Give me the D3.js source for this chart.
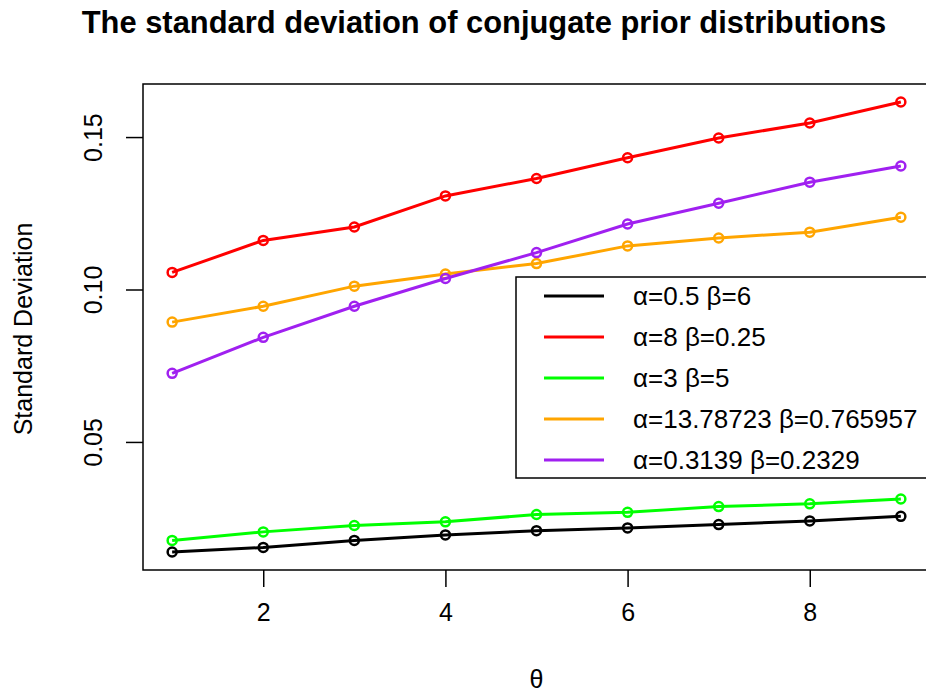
<!DOCTYPE html>
<html>
<head>
<meta charset="utf-8">
<script src="https://cdn.jsdelivr.net/npm/d3@7"></script>
<style>
  body { margin: 0; background: #fff; }
  svg { display: block; font-family: "Liberation Sans", Arial, sans-serif; }
</style>
</head>
<body>
<div class="chart"></div>
<script>
// theta values on the x axis
var theta = [1, 2, 3, 4, 5, 6, 7, 8, 9];

// standard deviation of each prior
var sdA05B6   = [0.0139, 0.0154, 0.0177, 0.0195, 0.0209, 0.0218, 0.0229, 0.0241, 0.0256];
var sdA8B025  = [0.1056, 0.1161, 0.1205, 0.1307, 0.1364, 0.1432, 0.1497, 0.1546, 0.1615];
var sdA3B5    = [0.0177, 0.0205, 0.0226, 0.0238, 0.0262, 0.0269, 0.0288, 0.0297, 0.0313];
var sdA13B076 = [0.0893, 0.0945, 0.1011, 0.1051, 0.1085, 0.1143, 0.1169, 0.1188, 0.1237];
var sdA03B02  = [0.0725, 0.0843, 0.0945, 0.1036, 0.1121, 0.1215, 0.1283, 0.1352, 0.1405];

var seriesNames = ["α=0.5 β=6", "α=8 β=0.25", "α=3 β=5", "α=13.78723 β=0.765957", "α=0.3139 β=0.2329"];
var seriesColors = ["#000000", "#ff0000", "#00ff00", "#ffa500", "#a020f0"];
var xTicks = [2, 4, 6, 8];
var yTicks = [0.05, 0.10, 0.15];

var allSeries = [sdA05B6, sdA8B025, sdA3B5, sdA13B076, sdA03B02];

var W = 926, H = 692;
var box = { left: 143, top: 84, right: 930, bottom: 570 };

var svg = d3.select(".chart").append("svg")
  .attr("width", W)
  .attr("height", H);

// R style: pad the data range by 4% on each side
var yMin = d3.min(allSeries, function(s) { return d3.min(s); });
var yMax = d3.max(allSeries, function(s) { return d3.max(s); });
var yPad = (yMax - yMin) * 0.04;
var xPad = (d3.max(theta) - d3.min(theta)) * 0.04;

var x = d3.scaleLinear()
  .domain([d3.min(theta) - xPad, d3.max(theta) + xPad])
  .range([box.left, box.right]);
var y = d3.scaleLinear()
  .domain([yMin - yPad, yMax + yPad])
  .range([box.bottom, box.top]);

// title
var title = svg.append("text")
  .attr("x", 484)
  .attr("y", 33)
  .attr("text-anchor", "middle")
  .style("font-weight", "bold")
  .style("font-size", "27px")
  .text("The standard deviation of conjugate prior distributions");
var tw = title.node().getComputedTextLength();
title.style("font-size", (27 * 805 / tw) + "px");

// axes
var xAxis = svg.append("g")
  .attr("transform", "translate(0," + box.bottom + ")")
  .call(d3.axisBottom(x).tickValues(xTicks).tickSize(17).tickPadding(16).tickFormat(d3.format("d")));
xAxis.select(".domain").remove();
xAxis.selectAll("line").attr("stroke", "#000").attr("stroke-width", 1.5);
xAxis.selectAll("text").style("font-size", "25px").attr("fill", "#000");

var yAxis = svg.append("g")
  .attr("transform", "translate(" + box.left + ",0)")
  .call(d3.axisLeft(y).tickValues(yTicks).tickSize(17).tickFormat(d3.format(".2f")));
yAxis.select(".domain").remove();
yAxis.selectAll("line").attr("stroke", "#000").attr("stroke-width", 1.5);
yAxis.selectAll("text")
  .attr("x", null).attr("dy", null)
  .attr("text-anchor", "middle")
  .attr("transform", "translate(-41,0) rotate(-90)")
  .attr("y", 0)
  .style("font-size", "25px")
  .attr("fill", "#000");

// plot frame
svg.append("rect")
  .attr("x", box.left)
  .attr("y", box.top)
  .attr("width", box.right - box.left)
  .attr("height", box.bottom - box.top)
  .attr("fill", "none")
  .attr("stroke", "#000")
  .attr("stroke-width", 1.5);

// axis titles
svg.append("text")
  .attr("x", (box.left + box.right) / 2)
  .attr("y", 688)
  .attr("text-anchor", "middle")
  .style("font-size", "25px")
  .text("θ");
svg.append("text")
  .attr("transform", "translate(32," + ((box.top + box.bottom) / 2 + 2) + ") rotate(-90)")
  .attr("text-anchor", "middle")
  .style("font-size", "25px")
  .text("Standard Deviation");

// series (type = "o": lines run through open circles)
var line = d3.line()
  .x(function(d, i) { return x(theta[i]); })
  .y(function(d) { return y(d); });

var groups = svg.selectAll("g.series").data(allSeries).enter().append("g").attr("class", "series");
groups.append("path")
  .attr("d", function(d) { return line(d); })
  .attr("fill", "none")
  .attr("stroke", function(d, i) { return seriesColors[i]; })
  .attr("stroke-width", 3);
groups.each(function(s, si) {
  d3.select(this).selectAll("circle").data(s).enter().append("circle")
    .attr("cx", function(d, i) { return x(theta[i]); })
    .attr("cy", function(d) { return y(d); })
    .attr("r", 4.5)
    .attr("fill", "none")
    .attr("stroke", seriesColors[si])
    .attr("stroke-width", 2.5);
});

// legend
var lg = svg.append("g").attr("transform", "translate(516,277)");
lg.append("rect")
  .attr("width", 430)
  .attr("height", 201)
  .attr("fill", "#fff")
  .attr("stroke", "#000")
  .attr("stroke-width", 1.5);
var rows = lg.selectAll("g.row").data(seriesNames).enter().append("g")
  .attr("class", "row")
  .attr("transform", function(d, i) { return "translate(0," + (19 + i * 41) + ")"; });
rows.append("line")
  .attr("x1", 28).attr("x2", 88)
  .attr("stroke", function(d, i) { return seriesColors[i]; })
  .attr("stroke-width", 3);
rows.append("text")
  .attr("x", 117)
  .attr("dy", "0.35em")
  .style("font-size", "26px")
  .text(function(d) { return d; });
</script>
</body>
</html>
